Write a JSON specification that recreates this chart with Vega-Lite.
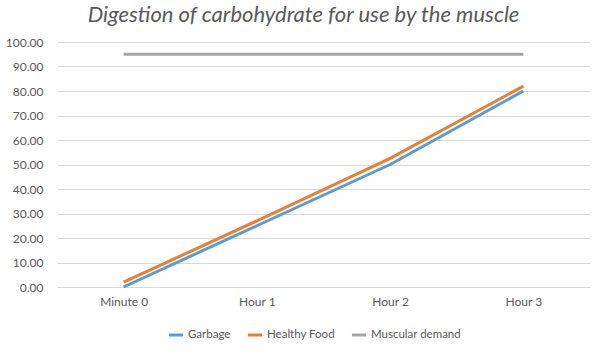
{
  "$schema": "https://vega.github.io/schema/vega-lite/v6.json",
  "autosize": "none",
  "width": 533,
  "height": 245,
  "padding": {"left": 57, "top": 42, "right": 15, "bottom": 66},
  "background": "white",
  "title": {
    "text": "Digestion of carbohydrate for use by the muscle",
    "font": "Lato",
    "fontSize": 22,
    "fontStyle": "italic",
    "fontWeight": "normal",
    "color": "#595959",
    "anchor": "middle",
    "dx": -20,
    "offset": 9
  },
  "config": {
    "view": {"stroke": null},
    "font": "Lato"
  },
  "data": {
    "values": [
      {"time": "Minute 0", "series": "Garbage", "value": 0},
      {"time": "Hour 1", "series": "Garbage", "value": 25},
      {"time": "Hour 2", "series": "Garbage", "value": 50},
      {"time": "Hour 3", "series": "Garbage", "value": 80},
      {"time": "Minute 0", "series": "Healthy Food", "value": 2},
      {"time": "Hour 1", "series": "Healthy Food", "value": 27},
      {"time": "Hour 2", "series": "Healthy Food", "value": 52.5},
      {"time": "Hour 3", "series": "Healthy Food", "value": 82},
      {"time": "Minute 0", "series": "Muscular demand", "value": 95},
      {"time": "Hour 1", "series": "Muscular demand", "value": 95},
      {"time": "Hour 2", "series": "Muscular demand", "value": 95},
      {"time": "Hour 3", "series": "Muscular demand", "value": 95}
    ]
  },
  "mark": {"type": "line", "strokeWidth": 3, "strokeCap": "butt"},
  "encoding": {
    "x": {
      "field": "time",
      "type": "ordinal",
      "sort": ["Minute 0", "Hour 1", "Hour 2", "Hour 3"],
      "scale": {"type": "point", "padding": 0.5},
      "axis": {
        "title": null,
        "labelAngle": 0,
        "labelFontSize": 12,
        "labelColor": "#595959",
        "labelPadding": 9,
        "ticks": false,
        "domainColor": "#D9D9D9",
        "domainWidth": 1,
        "grid": false
      }
    },
    "y": {
      "field": "value",
      "type": "quantitative",
      "scale": {"domain": [0, 100], "nice": false},
      "axis": {
        "title": null,
        "format": ".2f",
        "values": [0, 10, 20, 30, 40, 50, 60, 70, 80, 90, 100],
        "labelFontSize": 12,
        "labelColor": "#595959",
        "labelPadding": 14,
        "ticks": false,
        "domain": false,
        "gridColor": "#D9D9D9",
        "gridWidth": 1
      }
    },
    "color": {
      "field": "series",
      "type": "nominal",
      "scale": {
        "domain": ["Garbage", "Healthy Food", "Muscular demand"],
        "range": ["#5B9BD5", "#ED7D31", "#A5A5A5"]
      },
      "legend": {
        "title": null,
        "orient": "none",
        "legendX": 110,
        "legendY": 284,
        "direction": "horizontal",
        "symbolType": "stroke",
        "symbolStrokeWidth": 3,
        "symbolSize": 200,
        "labelOffset": 3,
        "labelFontSize": 11.5,
        "labelColor": "#595959",
        "columnPadding": 10
      }
    }
  }
}
